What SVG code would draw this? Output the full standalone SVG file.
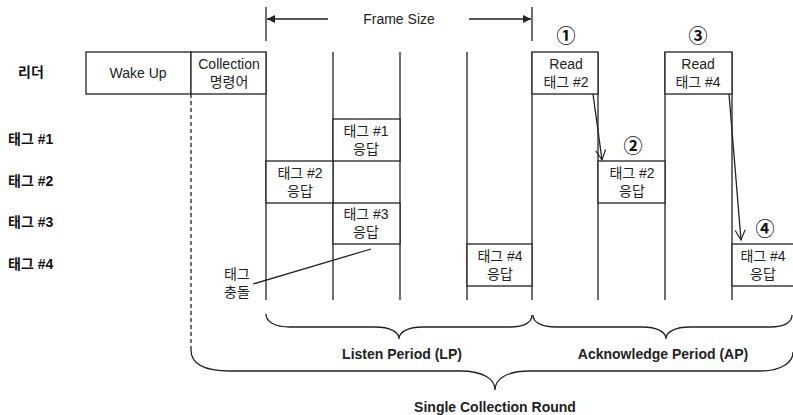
<svg xmlns="http://www.w3.org/2000/svg" width="793" height="415" viewBox="0 0 793 415">
  <style>
    .ln { stroke: #222; stroke-width: 1.3; fill: none; }
    .box { stroke: #222; stroke-width: 1.3; fill: #fff; }
    .t { font-family: "Liberation Sans", "Noto Sans CJK KR", sans-serif; font-size: 14px; fill: #222; text-anchor: middle; }
    .row { font-family: "Liberation Sans", "Noto Sans CJK KR", sans-serif; font-size: 14px; font-weight: bold; fill: #111; }
    .per { font-family: "Liberation Sans", sans-serif; font-size: 14px; font-weight: bold; fill: #222; text-anchor: middle; }
    .num { font-family: "Noto Sans CJK KR", "DejaVu Sans", sans-serif; font-size: 19px; font-weight: bold; fill: #111; text-anchor: middle; }
  </style>
  <defs>
    <marker id="solid" viewBox="0 0 10 10" refX="10" refY="5" markerWidth="8" markerHeight="8" orient="auto" markerUnits="userSpaceOnUse">
      <path d="M0,0 L10,5 L0,10 Z" fill="#222"/>
    </marker>
    <marker id="open" viewBox="0 0 12 12" refX="11" refY="6" markerWidth="12" markerHeight="12" orient="auto" markerUnits="userSpaceOnUse">
      <path d="M1,1 L11,6 L1,11" fill="none" stroke="#222" stroke-width="1.2"/>
    </marker>
  </defs>
  <rect width="793" height="415" fill="#fff"/>

  <!-- row labels -->
  <g id="row-labels">
    <text class="row" x="18" y="77">리더</text>
    <text class="row" x="8" y="144">태그 #1</text>
    <text class="row" x="8" y="186">태그 #2</text>
    <text class="row" x="8" y="227">태그 #3</text>
    <text class="row" x="8" y="269">태그 #4</text>
  </g>

  <!-- frame size dimension -->
  <g id="frame-size">
    <line class="ln" x1="266" y1="7" x2="266" y2="41"/>
    <line class="ln" x1="532" y1="7" x2="532" y2="41"/>
    <line class="ln" x1="328" y1="19" x2="267" y2="19" marker-end="url(#solid)"/>
    <line class="ln" x1="469" y1="19" x2="531" y2="19" marker-end="url(#solid)"/>
    <text class="t" x="399" y="24">Frame Size</text>
  </g>

  <!-- slot column lines -->
  <g id="columns">
    <line class="ln" x1="266" y1="52" x2="266" y2="300"/>
    <line class="ln" x1="333" y1="52" x2="333" y2="300"/>
    <line class="ln" x1="400" y1="52" x2="400" y2="300"/>
    <line class="ln" x1="467" y1="52" x2="467" y2="300"/>
    <line class="ln" x1="532" y1="52" x2="532" y2="300"/>
    <line class="ln" x1="598" y1="52" x2="598" y2="300"/>
    <line class="ln" x1="665" y1="52" x2="665" y2="300"/>
    <line class="ln" x1="732" y1="52" x2="732" y2="300"/>
    <line class="ln" x1="191" y1="94" x2="191" y2="350" stroke-dasharray="4,3"/>
  </g>

  <g id="wake-up">
    <rect class="box" x="86" y="52" width="105" height="42"/>
    <text class="t" x="138" y="78">Wake Up</text>
  </g>
  <g id="collection-cmd">
    <rect class="box" x="191" y="52" width="75" height="42"/>
    <text class="t" x="229" y="69">Collection</text>
    <text class="t" x="229" y="87">명령어</text>
  </g>

  <g id="tag1-reply">
    <rect class="box" x="333" y="119" width="67" height="42"/>
    <text class="t" x="366" y="136">태그 #1</text>
    <text class="t" x="366" y="154">응답</text>
  </g>
  <g id="tag2-reply">
    <rect class="box" x="266" y="161" width="67" height="42"/>
    <text class="t" x="300" y="178">태그 #2</text>
    <text class="t" x="300" y="196">응답</text>
  </g>
  <g id="tag3-reply">
    <rect class="box" x="333" y="203" width="67" height="41"/>
    <text class="t" x="366" y="219">태그 #3</text>
    <text class="t" x="366" y="237">응답</text>
  </g>
  <g id="tag4-reply">
    <rect class="box" x="467" y="244" width="65" height="42"/>
    <text class="t" x="500" y="261">태그 #4</text>
    <text class="t" x="500" y="279">응답</text>
  </g>

  <g id="read-tag2">
    <rect class="box" x="532" y="52" width="66" height="42"/>
    <text class="t" x="566" y="69">Read</text>
    <text class="t" x="566" y="87">태그 #2</text>
    <text class="num" x="566" y="43">①</text>
  </g>
  <g id="ack-tag2">
    <rect class="box" x="598" y="161" width="67" height="42"/>
    <text class="t" x="632" y="178">태그 #2</text>
    <text class="t" x="632" y="196">응답</text>
    <text class="num" x="633" y="153">②</text>
  </g>
  <g id="read-tag4">
    <rect class="box" x="665" y="52" width="67" height="42"/>
    <text class="t" x="698" y="69">Read</text>
    <text class="t" x="698" y="87">태그 #4</text>
    <text class="num" x="698" y="43">③</text>
  </g>
  <g id="ack-tag4">
    <rect class="box" x="732" y="244" width="70" height="42"/>
    <text class="t" x="763" y="261">태그 #4</text>
    <text class="t" x="763" y="279">응답</text>
    <text class="num" x="765" y="236">④</text>
  </g>

  <g id="collision-note">
    <text class="t" x="237" y="279">태그</text>
    <text class="t" x="237" y="297">충돌</text>
  </g>

  <g id="connectors">
    <line class="ln" x1="593" y1="94" x2="602" y2="160" marker-end="url(#open)"/>
    <line class="ln" x1="729" y1="94" x2="741" y2="240" marker-end="url(#open)"/>
    <line class="ln" x1="253" y1="284" x2="371" y2="249"/>
  </g>

  <!-- period braces -->
  <g id="braces">
    <path class="ln" d="M266,314 C266,322 275,327 290,327 L375,327 C390,327 399,332 399,339 C399,332 408,327 423,327 L510,327 C525,327 532,322 532,315"/>
    <path class="ln" d="M533,315 C533,322 541,327 556,327 L642,327 C657,327 666,332 666,339 C666,332 675,327 690,327 L770,327 C785,327 792,322 792,315"/>
    <path class="ln" d="M191,350 C191,364 205,371 230,371 L460,371 C485,371 495,380 495,390 C495,380 505,371 530,371 L760,371 C782,371 793,362 793,352"/>
  </g>
  <g id="period-labels">
    <text class="per" x="402" y="359">Listen Period (LP)</text>
    <text class="per" x="663" y="359">Acknowledge Period (AP)</text>
    <text class="per" x="495" y="412">Single Collection Round</text>
  </g>
</svg>
